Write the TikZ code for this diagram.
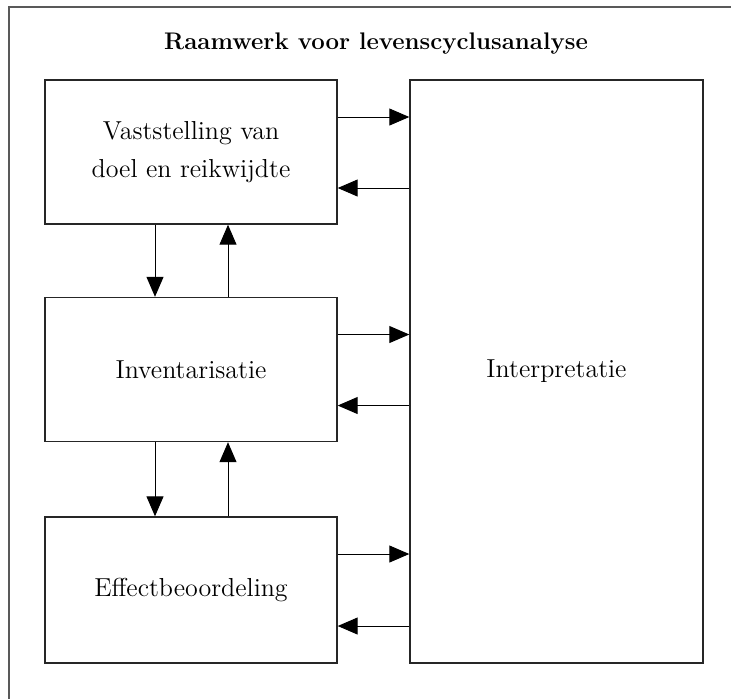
\documentclass[tikz,border=0pt]{standalone}
\usepackage{tikz}
\usetikzlibrary{arrows.meta,positioning}

\begin{document}
\begin{tikzpicture}[
    x=0.5pt, y=-0.5pt,
    box/.style={draw=black!85, line width=0.7pt, align=center, minimum width=146pt,
                minimum height=72pt, font=\fontsize{13}{19}\selectfont},
    bigbox/.style={draw=black!85, line width=0.7pt, align=center, minimum width=146.5pt,
                minimum height=291.5pt, font=\fontsize{13}{19}\selectfont},
    arrow/.style={-{Triangle[length=10pt, width=8.5pt]}, line width=0.5pt}
]
  \useasboundingbox (0,0) rectangle (731,698);
  \clip (0,0) rectangle (731,698);
  \draw[black!65, line width=0.8pt] (9,7) rectangle (760,720);

  \node[font=\fontsize{12}{14}\selectfont\bfseries] (title) at (376,44) {Raamwerk voor levenscyclusanalyse};
  \node[box] (doel) at (191,152) {Vaststelling van\\doel en reikwijdte};
  \node[box] (inv) at (191,369.5) {Inventarisatie};
  \node[box, minimum height=73pt] (eff) at (191,590) {Effectbeoordeling};
  \node[bigbox] (interp) at (556.5,371.5) {Interpretatie};

  \draw[arrow] ([yshift=17.5pt]doel.east) -- ([yshift=17.5pt]doel.east -| interp.west);
  \draw[arrow] ([yshift=-18pt]doel.east -| interp.west) -- ([yshift=-18pt]doel.east);
  \draw[arrow] ([yshift=17.5pt]inv.east) -- ([yshift=17.5pt]inv.east -| interp.west);
  \draw[arrow] ([yshift=-18pt]inv.east -| interp.west) -- ([yshift=-18pt]inv.east);
  \draw[arrow] ([yshift=18pt]eff.east) -- ([yshift=18pt]eff.east -| interp.west);
  \draw[arrow] ([yshift=-18pt]eff.east -| interp.west) -- ([yshift=-18pt]eff.east);

  \draw[arrow] ([xshift=-18pt]doel.south) -- ([xshift=-18pt]inv.north);
  \draw[arrow] ([xshift=18.5pt]inv.north) -- ([xshift=18.5pt]doel.south);
  \draw[arrow] ([xshift=-18pt]inv.south) -- ([xshift=-18pt]eff.north);
  \draw[arrow] ([xshift=18.5pt]eff.north) -- ([xshift=18.5pt]inv.south);
\end{tikzpicture}
\end{document}
